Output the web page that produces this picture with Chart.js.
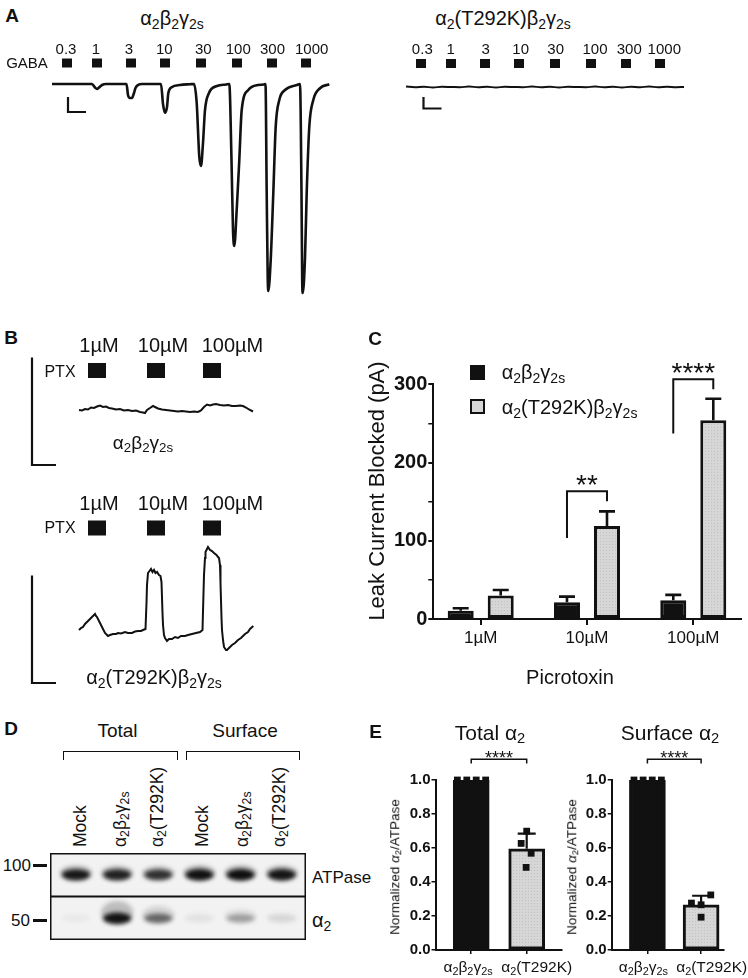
<!DOCTYPE html>
<html lang="en">
<head>
<meta charset="utf-8">
<title>GABAA α2(T292K)</title>
<script src="https://cdn.jsdelivr.net/npm/chart.js@4.4.1/dist/chart.umd.min.js"></script>
<style>
  body { margin: 0; background: #fff; }
  #fig { position: relative; width: 748px; height: 978px; overflow: hidden; background: #fff;
         font-family: 'Liberation Sans', Arial, sans-serif; color: #111; }
  #fig canvas { position: absolute; }
  .t { position: absolute; white-space: nowrap; line-height: 1; }
  .t sub { font-size: 0.7em; vertical-align: -0.25em; line-height: 0; }
  .box { position: absolute; box-sizing: border-box; }
</style>
</head>
<body>
<div id="fig"></div>
<script>
// ---------- Datos ----------
// A: corrientes evocadas por GABA (µM), tiempo en s, corriente en nA
const gabaConc = ['0.3', '1', '3', '10', '30', '100', '300', '1000'];
const gabaStartS = [10, 40, 74, 108, 144, 180, 215, 249];
const gabaDurS = 10;
const wtGabaTrace = [
  [0, 0], [40, 0], [43, -0.14], [45, -0.2], [47, -0.14], [50, -0.04], [54, 0],
  [74.5, 0], [76, -0.44], [78, -0.56], [80, -0.56], [82, -0.36], [83.5, -0.16], [86, -0.04], [90, 0],
  [109, 0], [111, -0.8], [113, -1.15], [115, -0.92], [116.3, -0.37], [119.7, -0.13], [128, -0.04], [138, -0.01],
  [142, 0], [144.7, -0.76], [147.3, -2.92], [149, -3.28], [151, -2.36], [153, -1.04], [157, -0.36], [165, -0.08], [174, -0.02],
  [177.3, 0], [179.5, -3.04], [181, -5.84], [182.3, -6.48], [184.7, -5.04], [187.3, -3.04], [189.7, -1.04], [196.3, -0.24], [206, -0.04], [212, -0.02],
  [213.5, 0], [214.7, -4.36], [215.7, -7.71], [216.3, -8.28], [218.7, -7.04], [221.3, -4.36], [223.7, -1.71], [227.3, -0.64], [233, -0.24], [244.7, -0.04],
  [248, 0], [249.5, -4.36], [250.2, -7.84], [250.7, -8.36], [253, -6.96], [254.7, -4.36], [257.3, -1.71], [261.3, -0.64], [268, -0.17], [277.3, -0.01]
];
const mutGabaTrace = [
  [0, 0.02], [9, -0.01], [18, 0.01], [27, -0.02], [36, 0.01], [45, 0], [54, -0.01], [63, 0.02],
  [72, -0.01], [81, 0.01], [90, -0.02], [99, 0.01], [108, 0], [117, -0.01], [126, 0.02], [135, -0.01],
  [144, 0.01], [153, -0.02], [162, 0.01], [171, 0], [180, -0.01], [189, 0.02], [198, -0.01], [207, 0.01],
  [216, -0.02], [225, 0.01], [234, -0.01], [243, 0.02], [252, -0.01], [261, 0.01], [270, -0.01], [278, 0]
];

// B: picrotoxina, corriente en pA
const ptxConc = ['1µM', '10µM', '100µM'];
const ptxStartS = [9, 68, 124];
const ptxDurS = 18;
const wtPtxTrace = [
  [0, 2], [3, 1], [6, 4], [9, 3], [12, 7], [15, 6], [18, 9], [21, 11], [24, 8], [27, 9], [30, 6], [33, 5],
  [37, 3], [41, 4], [45, 1], [49, 2], [53, 0], [57, 1], [61, -2], [64, -3], [66, -4], [68, 2], [71, 6],
  [74, 10], [76, 8], [79, 5], [83, 3], [87, 2], [91, 1], [95, 0], [99, -1], [103, 0], [107, -1], [111, -2],
  [115, -1], [119, -2], [122, 1], [125, 8], [128, 13], [131, 11], [134, 13], [137, 14], [141, 12], [145, 11],
  [149, 12], [153, 10], [157, 10], [161, 11], [164, 10], [167, 7], [170, 3], [174, -1]
];
const mutPtxTrace = [
  [0, 6], [2, 10], [4, 12], [6, 18], [9, 24], [11, 28], [13, 32], [15, 36], [16, 38], [17, 34], [18, 32],
  [20, 24], [22, 16], [24, 8], [26, 0], [28, -4], [29, -6], [31, -4], [34, -2], [37, -2], [39, 0], [42, -1],
  [46, 2], [49, 0], [53, 0], [56, 3], [59, 4], [62, 4], [64, 6], [66.5, 8], [67.5, 60], [68, 96], [69, 120],
  [70.5, 124], [72, 128], [73.5, 122], [75, 126], [76.5, 120], [78, 122], [80, 116], [81.5, 114], [82.5, 102],
  [83.5, 40], [84, 16], [85, -4], [86, -10], [88, -16], [90, -12], [93, -12], [96, -8], [99, -10], [102, -6],
  [106, -6], [109, -4], [113, -2], [117, 0], [121, 2], [123.5, 6], [124.5, 80], [125, 116], [126, 150],
  [126.5, 162], [128, 168], [129, 172], [131, 166], [133, 164], [135, 160], [137.5, 156], [139, 152],
  [140, 150], [141, 136], [141.5, 100], [142.5, 30], [143, 6], [144, -14], [145, -28], [147, -34], [148, -34],
  [150, -30], [153, -24], [156, -20], [159, -14], [162, -10], [166, -2], [169, 2], [171, 8], [174.3, 14]
];

// C: corriente de fuga bloqueada (pA), media ± SEM
const picroCats = ['1µM', '10µM', '100µM'];
const leakWtMean = [10.6, 21.4, 24.0];
const leakWtSem = [3.1, 7.2, 6.8];
const leakMutMean = [30.0, 119.0, 254.0];
const leakMutSem = [7.0, 18.6, 27.6];
const leakTicks = [0, 100, 200, 300];

// D: western blot (intensidad relativa de banda por carril)
const blotLanes = ['Mock', 'α2β2γ2s', 'α2(T292K)', 'Mock', 'α2β2γ2s', 'α2(T292K)'];
const blotRows = ['ATPase', 'α2'];
const atpaseSignal = [0.93, 0.88, 0.8, 0.97, 0.98, 0.94];
const alpha2Signal = [0.03, 0.95, 0.55, 0.06, 0.32, 0.1];

// E: α2/ATPase normalizado
const exprCats = ['α2β2γ2s', 'α2(T292K)'];
const totalMean = [1.0, 0.595];
const totalSd = [0, 0.09];
const totalWtPts = [1, 1, 1, 1];
const totalMutPts = [0.699, 0.627, 0.569, 0.486];
const surfMean = [1.0, 0.265];
const surfSd = [0, 0.054];
const surfWtPts = [1, 1, 1, 1];
const surfMutPts = [0.324, 0.276, 0.266, 0.193];
const exprTicks = [0, 0.2, 0.4, 0.6, 0.8, 1.0];

// ---------- Configuración general ----------
Chart.defaults.font.family = "'Liberation Sans', Arial, sans-serif";
Chart.defaults.color = '#111';
Chart.defaults.animation = false;
Chart.defaults.responsive = false;
Chart.defaults.plugins.legend.display = false;
Chart.defaults.plugins.tooltip.enabled = false;

const fig = document.getElementById('fig');
const INK = '#111';

function addCanvas(left, top, w, h) {
  const c = document.createElement('canvas');
  c.width = w; c.height = h;
  c.style.left = left + 'px'; c.style.top = top + 'px';
  c.style.width = w + 'px'; c.style.height = h + 'px';
  fig.appendChild(c);
  return c;
}

function txt(html, x, y, size, o = {}) {
  const d = document.createElement('div');
  d.className = 't';
  d.innerHTML = html;
  d.style.left = x + 'px';
  d.style.top = y + 'px';
  d.style.fontSize = size + 'px';
  if (o.bold) d.style.fontWeight = 'bold';
  if (o.lane) {
    d.style.transformOrigin = '0 0';
    d.style.transform = 'rotate(-90deg) translateY(-50%)';
  } else {
    const ax = o.align === 'left' ? '0' : o.align === 'right' ? '-100%' : '-50%';
    d.style.transform = `translate(${ax},-50%)` + (o.rot ? ` rotate(${o.rot}deg)` : '');
  }
  fig.appendChild(d);
  return d;
}

function box(left, top, w, h, css) {
  const d = document.createElement('div');
  d.className = 'box';
  Object.assign(d.style, { left: left + 'px', top: top + 'px', width: w + 'px', height: h + 'px' }, css);
  fig.appendChild(d);
}

// relleno gris punteado de las barras
function dotFill() {
  const c = document.createElement('canvas');
  c.width = 3; c.height = 3;
  const g = c.getContext('2d');
  g.fillStyle = '#d6d6d6'; g.fillRect(0, 0, 3, 3);
  g.fillStyle = '#c2c2c2'; g.fillRect(1, 1, 1, 1);
  return g.createPattern(c, 'repeat');
}
const grayFill = dotFill();

// ---------- Plugins ----------
// Barras de aplicación del fármaco (cuadros negros sobre el trazo)
const stimPlugin = {
  id: 'stimBars',
  afterDatasetsDraw(chart, args, o) {
    if (!o.starts) return;
    const { ctx, scales: { x, y } } = chart;
    const yc = y.getPixelForValue(o.level);
    ctx.save();
    ctx.fillStyle = INK;
    o.starts.forEach(s => {
      const x0 = x.getPixelForValue(s), x1 = x.getPixelForValue(s + o.duration);
      ctx.fillRect(x0, yc - o.height / 2, x1 - x0, o.height);
    });
    ctx.restore();
  }
};

// Barras de error hacia arriba
const errorBarPlugin = {
  id: 'errorBars',
  afterDatasetsDraw(chart, args, o) {
    const { ctx, scales: { y } } = chart;
    chart.data.datasets.forEach((ds, di) => {
      if (!ds.errorUp) return;
      chart.getDatasetMeta(di).data.forEach((bar, i) => {
        const err = ds.errorUp[i];
        if (!err) return;
        const top = y.getPixelForValue(ds.data[i].y + err);
        ctx.save();
        ctx.strokeStyle = INK;
        ctx.lineWidth = o.width;
        ctx.beginPath();
        ctx.moveTo(bar.x, bar.y);
        ctx.lineTo(bar.x, top);
        ctx.moveTo(bar.x - o.cap / 2, top);
        ctx.lineTo(bar.x + o.cap / 2, top);
        ctx.stroke();
        ctx.restore();
      });
    });
  }
};

// Corchetes de significancia
const bracketPlugin = {
  id: 'sigBrackets',
  afterDatasetsDraw(chart, args, o) {
    const { ctx, scales: { y } } = chart;
    (o.items || []).forEach(b => {
      const a = chart.getDatasetMeta(b.from[0]).data[b.from[1]];
      const c = chart.getDatasetMeta(b.to[0]).data[b.to[1]];
      const yt = y.getPixelForValue(b.top);
      ctx.save();
      ctx.strokeStyle = INK;
      ctx.lineWidth = o.lineWidth;
      ctx.beginPath();
      ctx.moveTo(a.x, y.getPixelForValue(b.left));
      ctx.lineTo(a.x, yt);
      ctx.lineTo(c.x, yt);
      ctx.lineTo(c.x, y.getPixelForValue(b.right));
      ctx.stroke();
      ctx.fillStyle = INK;
      ctx.font = o.font;
      ctx.textAlign = 'center';
      ctx.textBaseline = 'alphabetic';
      ctx.fillText(b.text, (a.x + c.x) / 2, yt + o.textOffset);
      ctx.restore();
    });
  }
};

// Bandas del western blot
const blotPlugin = {
  id: 'blotBands',
  beforeDatasetsDraw(chart, args, o) {
    const { ctx, chartArea: a, scales: { y } } = chart;
    ctx.save();
    ctx.fillStyle = o.background;
    ctx.fillRect(a.left, a.top, a.width, a.height);
    chart.data.datasets.forEach((ds, di) => {
      chart.getDatasetMeta(di).data.forEach((pt, i) => {
        const s = ds.signal[i];
        ctx.filter = `blur(${o.blur}px)`;
        ctx.fillStyle = `rgba(60,60,60,${0.3 * s})`;
        ctx.beginPath();
        ctx.ellipse(pt.x, pt.y - o.smear[di] * s, o.rx + 2, o.ry + o.smear[di] * s, 0, 0, 2 * Math.PI);
        ctx.fill();
        ctx.fillStyle = `rgba(10,10,10,${s})`;
        ctx.beginPath();
        ctx.ellipse(pt.x, pt.y, o.rx, o.ry * (0.55 + 0.45 * s), 0, 0, 2 * Math.PI);
        ctx.fill();
      });
    });
    ctx.filter = 'none';
    ctx.strokeStyle = INK;
    ctx.lineWidth = 1.5;
    ctx.strokeRect(a.left + 0.75, a.top + 0.75, a.width - 1.5, a.height - 1.5);
    const mid = (y.getPixelForValue(0) + y.getPixelForValue(1)) / 2;
    ctx.lineWidth = 2;
    ctx.beginPath();
    ctx.moveTo(a.left, mid);
    ctx.lineTo(a.right, mid);
    ctx.stroke();
    ctx.restore();
  }
};

// ---------- Trazos (A y B) ----------
function traceChart(c, trace, xr, yr, sb, stim, smooth, lw) {
  return new Chart(c, {
    type: 'line',
    data: {
      datasets: [
        { data: trace.map(p => ({ x: p[0], y: p[1] })), pointRadius: 0, borderColor: INK, borderWidth: lw,
          cubicInterpolationMode: smooth ? 'monotone' : 'default', tension: 0, clip: false },
        { data: [{ x: sb.t, y: sb.i + sb.di }, { x: sb.t, y: sb.i }, { x: sb.t + sb.dt, y: sb.i }],
          pointRadius: 0, borderColor: INK, borderWidth: 2.2, tension: 0, clip: false }
      ]
    },
    options: {
      devicePixelRatio: 1,
      layout: { padding: 0 },
      scales: {
        x: { type: 'linear', display: false, min: xr[0], max: xr[1] },
        y: { type: 'linear', display: false, min: yr[0], max: yr[1] }
      },
      plugins: { stimBars: stim }
    },
    plugins: [stimPlugin]
  });
}

traceChart(addCanvas(44, 40, 296, 264), wtGabaTrace, [-8, 288], [-8.8, 1.76],
  { t: 16, i: -1.12, dt: 18, di: 0.6 },
  { starts: gabaStartS, duration: gabaDurS, level: 0.84, height: 9 }, true, 2.6);

traceChart(addCanvas(398, 40, 296, 90), mutGabaTrace, [-8, 288], [-1.72, 1.88],
  { t: 17.5, i: -0.86, dt: 18, di: 0.46 },
  { starts: gabaStartS, duration: gabaDurS, level: 0.94, height: 9 }, true, 2);

traceChart(addCanvas(20, 340, 250, 140), wtPtxTrace, [-59, 191], [-138, 142],
  { t: -47, i: -108, dt: 24, di: 215 },
  { starts: ptxStartS, duration: ptxDurS, level: 81, height: 15 }, false, 2);

traceChart(addCanvas(20, 495, 250, 195), mutPtxTrace, [-59, 191], [-114, 276],
  { t: -47, i: -100, dt: 24, di: 215 },
  { starts: ptxStartS, duration: ptxDurS, level: 210, height: 15 }, false, 2);

// ---------- C: barras agrupadas ----------
const barCommon = { borderColor: INK, borderWidth: 3, borderSkipped: false, categoryPercentage: 0.753, barPercentage: 0.65 };
new Chart(addCanvas(350, 330, 393, 324), {
  type: 'bar',
  data: {
    datasets: [
      Object.assign({ label: 'α2β2γ2s', data: leakWtMean.map((v, i) => ({ x: i, y: v })), errorUp: leakWtSem, backgroundColor: INK }, barCommon),
      Object.assign({ label: 'α2(T292K)β2γ2s', data: leakMutMean.map((v, i) => ({ x: i, y: v })), errorUp: leakMutSem, backgroundColor: grayFill }, barCommon)
    ]
  },
  options: {
    devicePixelRatio: 1,
    layout: { padding: { top: 54.3, right: 2, left: 0, bottom: 0 } },
    scales: {
      x: {
        type: 'linear', min: -0.446, max: 2.449, offset: false,
        afterBuildTicks: s => { s.ticks = picroCats.map((_, i) => ({ value: i })); },
        afterFit: s => { s.height = 35; },
        ticks: { callback: v => picroCats[v] ?? '', font: { size: 17 }, padding: 3, maxRotation: 0, autoSkip: false },
        grid: { offset: false, drawOnChartArea: false, tickLength: 6, color: INK, lineWidth: 2 },
        border: { color: INK, width: 2 }
      },
      y: {
        type: 'linear', min: 0, max: 300,
        afterBuildTicks: s => { s.ticks = [0, 50, 100, 150, 200, 250, 300].map(v => ({ value: v })); },
        afterFit: s => { s.width = 83.3; },
        ticks: { callback: v => leakTicks.includes(v) ? String(v) : '', font: { size: 20, weight: 'bold' }, padding: 1 },
        grid: { drawOnChartArea: false, tickLength: 5, color: INK, lineWidth: c => (c.tick && c.tick.value % 100 === 0 ? 2 : 1.5) },
        border: { color: INK, width: 2 }
      }
    },
    plugins: {
      errorBars: { width: 2.6, cap: 16 },
      sigBrackets: {
        lineWidth: 2, font: '28px "Liberation Sans", Arial, sans-serif', textOffset: 3,
        items: [
          { from: [0, 1], to: [1, 1], top: 163.2, left: 103.5, right: 150.4, text: '**' },
          { from: [0, 2], to: [1, 2], top: 306.4, left: 237.2, right: 293.6, text: '****' }
        ]
      }
    }
  },
  plugins: [errorBarPlugin, bracketPlugin]
});

// ---------- D: western blot ----------
new Chart(addCanvas(50, 853, 256, 87), {
  type: 'scatter',
  data: {
    datasets: [
      { label: blotRows[0], data: blotLanes.map((_, i) => ({ x: i, y: blotRows[0] })), signal: atpaseSignal, pointRadius: 0 },
      { label: blotRows[1], data: blotLanes.map((_, i) => ({ x: i, y: blotRows[1] })), signal: alpha2Signal, pointRadius: 0 }
    ]
  },
  options: {
    devicePixelRatio: 1,
    layout: { padding: 0 },
    scales: {
      x: { type: 'linear', display: false, min: -0.632, max: 5.59 },
      y: { type: 'category', labels: blotRows, offset: true, display: false }
    },
    plugins: { blotBands: { background: '#f2f2f2', blur: 2.2, rx: 14, ry: 5.8, smear: [2, 6] } }
  },
  plugins: [blotPlugin]
});

// ---------- E: expresión total y de superficie ----------
function exprChart(c, means, sds, wtPts, mutPts, jitWt, jitMut, xr, yAxisW) {
  return new Chart(c, {
    type: 'bar',
    data: {
      datasets: [
        { type: 'scatter', data: wtPts.map((v, k) => ({ x: jitWt[k], y: v })), pointStyle: 'rect', pointRadius: 4.8,
          backgroundColor: INK, borderColor: INK, borderWidth: 0, order: 1, clip: false },
        { type: 'scatter', data: mutPts.map((v, k) => ({ x: 1 + jitMut[k], y: v })), pointStyle: 'rect', pointRadius: 4.8,
          backgroundColor: INK, borderColor: INK, borderWidth: 0, order: 1, clip: false },
        { type: 'bar', data: means.map((v, i) => ({ x: i, y: v })), errorUp: sds, backgroundColor: [INK, grayFill],
          borderColor: INK, borderWidth: 3, borderSkipped: false, barThickness: 36, order: 2 }
      ]
    },
    options: {
      devicePixelRatio: 1,
      layout: { padding: { top: 40, right: 2, left: 0, bottom: 0 } },
      scales: {
        x: {
          type: 'linear', min: xr[0], max: xr[1], offset: false,
          afterBuildTicks: s => { s.ticks = exprCats.map((_, i) => ({ value: i })); },
          afterFit: s => { s.height = 8; },
          ticks: { callback: () => '' },
          grid: { offset: false, drawOnChartArea: false, tickLength: 4, color: INK, lineWidth: 1.5 },
          border: { color: INK, width: 2 }
        },
        y: {
          type: 'linear', min: 0, max: 1,
          afterBuildTicks: s => { s.ticks = exprTicks.map(v => ({ value: v })); },
          afterFit: s => { s.width = yAxisW; },
          ticks: { callback: v => v.toFixed(1), font: { size: 15, weight: 'bold' }, padding: 1 },
          grid: { drawOnChartArea: false, tickLength: 4, color: INK, lineWidth: 1.5 },
          border: { color: INK, width: 2 }
        }
      },
      plugins: {
        errorBars: { width: 2.2, cap: 18 },
        sigBrackets: {
          lineWidth: 1.5, font: '18px "Liberation Sans", Arial, sans-serif', textOffset: 4.4,
          items: [{ from: [2, 0], to: [2, 1], top: 1.122, left: 1.097, right: 1.097, text: '****' }]
        }
      }
    },
    plugins: [errorBarPlugin, bracketPlugin]
  });
}

exprChart(addCanvas(380, 740, 187, 220), totalMean, totalSd, totalWtPts, totalMutPts,
  [-0.25, -0.08, 0.09, 0.26], [0, -0.1, 0.08, -0.01], [-0.644, 1.64], 55.5);
exprChart(addCanvas(556, 740, 173, 220), surfMean, surfSd, surfWtPts, surfMutPts,
  [-0.25, -0.08, 0.09, 0.26], [0.18, -0.18, 0, 0], [-0.665, 1.43], 55.7);

// ---------- Textos ----------
const A2B2G2 = 'α<sub>2</sub>β<sub>2</sub>γ<sub>2s</sub>';
const MUT = 'α<sub>2</sub>(T292K)β<sub>2</sub>γ<sub>2s</sub>';

// A
txt('A', 12, 15, 19, { bold: true });
txt(A2B2G2, 172, 18, 20);
txt(MUT, 503, 18, 20);
txt('GABA', 27, 62, 15);
const gabaLabelXLeft = [66, 96, 129, 164.3, 203.3, 238.3, 272.5, 311.7];
const gabaLabelXRight = [422.3, 450.7, 485.7, 520.7, 555.7, 595, 629.3, 664.3];
gabaConc.forEach((c, i) => {
  txt(c, gabaLabelXLeft[i], 48.3, 15);
  txt(c, gabaLabelXRight[i], 48.3, 15);
});

// B
txt('B', 11, 337, 19, { bold: true });
const ptxLabelX = [99, 163, 232.5];
ptxConc.forEach((c, i) => {
  txt(c, ptxLabelX[i], 345, 20);
  txt(c, ptxLabelX[i], 503, 20);
});
txt('PTX', 60, 372, 16);
txt('PTX', 60, 528.3, 16);
txt(A2B2G2, 143, 442, 19);
txt(MUT, 154, 677, 20);

// C
txt('C', 375, 338, 19, { bold: true });
box(470, 365, 15, 15, { background: INK });
box(470, 399, 15, 15, { background: '#d6d6d6', border: '2.5px solid ' + INK });
txt(A2B2G2, 501.7, 372, 20, { align: 'left' });
txt(MUT, 501.7, 407, 20, { align: 'left' });
txt('Leak Current Blocked (pA)', 377, 491.4, 22, { rot: -90 });
txt('Picrotoxin', 570, 676.7, 20);

// D
txt('D', 11, 728, 19, { bold: true });
txt('Total', 117.5, 730, 19);
txt('Surface', 245, 730, 19);
box(62.7, 750.7, 115.6, 9.5, { borderTop: '1.5px solid #111', borderLeft: '1.5px solid #111', borderRight: '1.5px solid #111' });
box(185.7, 750.7, 114.3, 9.5, { borderTop: '1.5px solid #111', borderLeft: '1.5px solid #111', borderRight: '1.5px solid #111' });
const laneHtml = ['Mock', A2B2G2, 'α<sub>2</sub>(T292K)', 'Mock', A2B2G2, 'α<sub>2</sub>(T292K)'];
const laneLabelX = [80.8, 121, 158.3, 202.5, 243, 280];
laneHtml.forEach((h, i) => txt(h, laneLabelX[i], 847, 17.5, { lane: true }));
txt('100', 31, 865, 17, { align: 'right' });
txt('50', 30, 920, 17, { align: 'right' });
box(33, 863.5, 14, 3, { background: INK });
box(33, 918.5, 14, 3, { background: INK });
txt('ATPase', 312, 877, 17, { align: 'left' });
txt('α<sub>2</sub>', 312, 920, 20, { align: 'left' });

// E
txt('E', 375.5, 730.5, 19, { bold: true });
txt('Total α<sub>2</sub>', 490, 731.7, 21);
txt('Surface α<sub>2</sub>', 670, 731.7, 21);
txt('Normalized <i>α</i><sub>2</sub>/ATPase', 395, 866.7, 13.5, { rot: -90 });
txt('Normalized <i>α</i><sub>2</sub>/ATPase', 571.7, 866.7, 13.5, { rot: -90 });
const exprHtml = [A2B2G2, 'α<sub>2</sub>(T292K)'];
txt(exprHtml[0], 468, 966.7, 15.5);
txt(exprHtml[1], 536.7, 966.7, 15.5);
txt(exprHtml[0], 643.3, 966.7, 15.5);
txt(exprHtml[1], 711.7, 966.7, 15.5);
</script>
</body>
</html>
